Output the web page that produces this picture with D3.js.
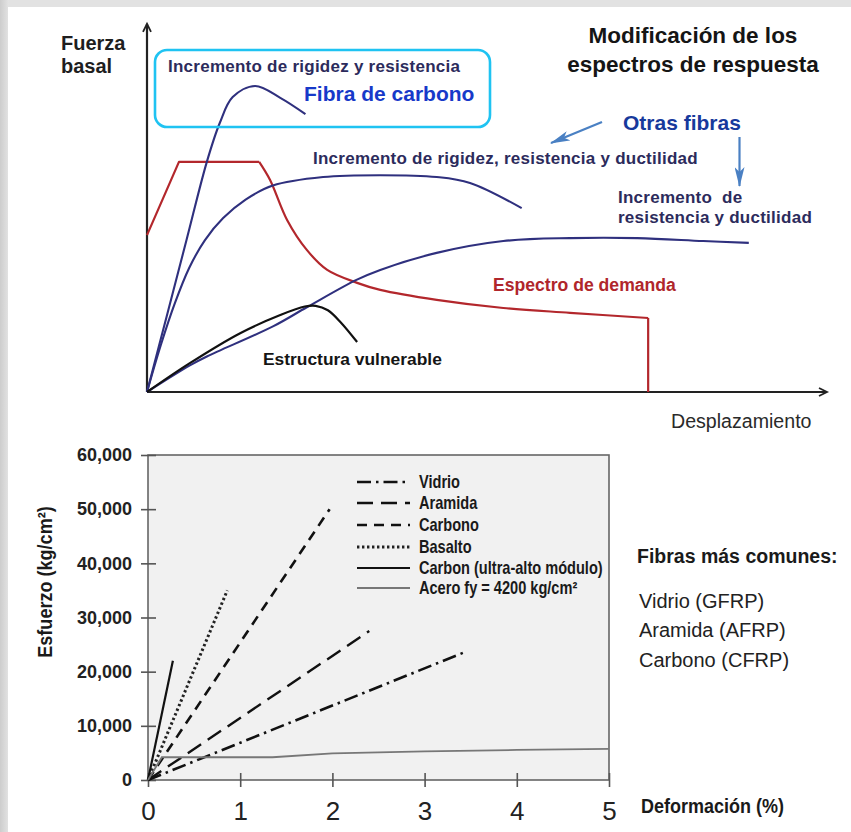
<!DOCTYPE html>
<html><head><meta charset="utf-8">
<script src="https://cdn.jsdelivr.net/npm/d3@7"></script>
<style>
body{margin:0;background:#fff}
svg{display:block}
text{font-family:Arial,"Liberation Sans",sans-serif}
</style>
</head><body>
<svg id="c" width="851" height="832"></svg>
<script>
// ---------- TOP CHART DATA (schematic units: displacement 0–100, base shear 0–100) ----------
const carbonFiberCurve = [[0,0],[2.9,20.5],[5.8,41],[8.8,62.2],[10.7,72.7],[12.6,79.7],[15.9,82.7],[19.6,79.5],[23.3,75.1]];
const stiffStrengthDuctCurve = [[0,0],[2,12.5],[4.1,24],[6.2,33.5],[8.5,41],[11.2,47],[14.5,52],[18.5,55.8],[25.9,58.1],[34.3,58.6],[42.6,58.1],[47.5,56.5],[55.1,49.7]];
const strengthDuctCurve = [[0,0],[6.3,7.2],[8.8,9.6],[18.6,17.8],[23.5,22.9],[30.8,30.3],[34.3,33.0],[42.6,37.6],[52.4,40.8],[62.2,41.6],[72.1,41.6],[81.8,40.8],[88.5,40.3]];
const vulnerableCurve = [[0,0],[6.3,7.8],[13.7,15.9],[19.6,20.8],[23.2,23.1],[24.8,23.3],[26.6,22.1],[28.5,18.8],[30.9,13.5]];
const demandRamp = [[0,42.4],[4.7,62.2],[16.5,62.2]];
const demandDecay = [[16.5,62.2],[18.1,57.3],[20.6,46.5],[23.5,38.4],[26.5,33.0],[30.9,29.5],[34.3,27.6],[42.6,24.9],[52.4,22.7],[62.2,21.4],[73.7,20.0]];
const demandDrop = [[73.7,20.0],[73.7,0]];

// ---------- BOTTOM CHART DATA (strain %, stress kg/cm²) ----------
const fiberNames = ["Vidrio","Aramida","Carbono","Basalto","Carbon (ultra-alto módulo)","Acero fy = 4200 kg/cm²"];
const vidrio   = [[0,0],[3.42,23500]];
const aramida  = [[0,0],[2.4,27500]];
const carbono  = [[0,0],[1.97,50000]];
const basalto  = [[0,0],[0.86,35000]];
const carbonUHM= [[0,0],[0.27,22000]];
const acero    = [[0,0],[0.15,4200],[1.35,4200],[2.0,4900],[3,5300],[4,5550],[5,5750]];
const xTicks = [0,1,2,3,4,5];
const yTicks = [0,10000,20000,30000,40000,50000,60000];
const commonFibers = ["Vidrio (GFRP)","Aramida (AFRP)","Carbono (CFRP)"];

const svg = d3.select("#c");
const defs = svg.append("defs");

// ---------- frame ----------
const lg = defs.append("linearGradient").attr("id","lgL").attr("x1",0).attr("x2",1).attr("y1",0).attr("y2",0);
lg.append("stop").attr("offset","0%").attr("stop-color","#cdcdcd");
lg.append("stop").attr("offset","100%").attr("stop-color","#e4e4e4");
svg.append("rect").attr("width",851).attr("height",832).attr("fill","#e2e2e2");
svg.append("rect").attr("x",0).attr("y",0).attr("width",9).attr("height",832).attr("fill","url(#lgL)");
svg.append("rect").attr("x",8).attr("y",7).attr("width",843).attr("height",825).attr("fill","#ffffff");

// ---------- TOP CHART ----------
const xT = d3.scaleLinear().domain([0,100]).range([147,827]);
const yT = d3.scaleLinear().domain([0,100]).range([392,22]);
const gTop = svg.append("g");
const smooth = d3.line().x(d=>xT(d[0])).y(d=>yT(d[1])).curve(d3.curveCatmullRom.alpha(0.5));
const straight = d3.line().x(d=>xT(d[0])).y(d=>yT(d[1]));

const axisCol = "#222";
gTop.append("line").attr("x1",xT(0)).attr("y1",yT(0)).attr("x2",xT(0)).attr("y2",yT(99.5)).attr("stroke",axisCol).attr("stroke-width",2.2);
gTop.append("line").attr("x1",xT(0)).attr("y1",yT(0)).attr("x2",xT(100)).attr("y2",yT(0)).attr("stroke",axisCol).attr("stroke-width",2.2);
gTop.append("path").attr("d",`M${xT(0)-4},${yT(99.5)+8} L${xT(0)},${yT(99.5)} L${xT(0)+4},${yT(99.5)+8}`).attr("fill","none").attr("stroke",axisCol).attr("stroke-width",1.8);
gTop.append("path").attr("d",`M${xT(100)-8},${yT(0)-4} L${xT(100)},${yT(0)} L${xT(100)-8},${yT(0)+4}`).attr("fill","none").attr("stroke",axisCol).attr("stroke-width",1.8);

const navy = "#2f307e", red = "#b3272c";
gTop.append("path").attr("d",straight(demandRamp)).attr("fill","none").attr("stroke",red).attr("stroke-width",2.2).attr("stroke-linejoin","round");
gTop.append("path").attr("d",smooth(demandDecay)).attr("fill","none").attr("stroke",red).attr("stroke-width",2.2);
gTop.append("path").attr("d",straight(demandDrop)).attr("fill","none").attr("stroke",red).attr("stroke-width",2.2);
[carbonFiberCurve, stiffStrengthDuctCurve, strengthDuctCurve].forEach(c=>{
  gTop.append("path").attr("d",smooth(c)).attr("fill","none").attr("stroke",navy).attr("stroke-width",2.1);
});
gTop.append("path").attr("d",smooth(vulnerableCurve)).attr("fill","none").attr("stroke","#111").attr("stroke-width",2.2);

gTop.append("rect").attr("x",155).attr("y",50).attr("width",335).attr("height",77).attr("rx",12)
  .attr("fill","none").attr("stroke","#1fc3f2").attr("stroke-width",2.6);

function txt(g,x,y,s,opt){
  const t = g.append("text").attr("x",x).attr("y",y).text(s)
   .attr("font-size",opt.size).attr("font-weight",opt.bold?"bold":"normal").attr("fill",opt.fill||"#222")
   .attr("text-anchor",opt.anchor||"start");
  if(opt.ls) t.attr("letter-spacing",opt.ls);
  if(opt.pre) t.style("white-space","pre");
  return t;
}
const navyTxt = "#2c2b5c";
txt(gTop,61,50,"Fuerza",{size:20,bold:true,fill:"#1e1e1e"});
txt(gTop,61,73,"basal",{size:20,bold:true,fill:"#1e1e1e"});
txt(gTop,693,43,"Modificación de los",{size:22.5,bold:true,fill:"#151515",anchor:"middle"});
txt(gTop,693,72,"espectros de respuesta",{size:22.5,bold:true,fill:"#151515",anchor:"middle"});
txt(gTop,168,72,"Incremento de rigidez y resistencia",{size:17,bold:true,fill:navyTxt,ls:0.25});
txt(gTop,304,101,"Fibra de carbono",{size:21,bold:true,fill:"#1739c9"});
txt(gTop,623,130,"Otras fibras",{size:21,bold:true,fill:"#17399c"});
txt(gTop,313,164,"Incremento de rigidez, resistencia y ductilidad",{size:17,bold:true,fill:navyTxt,ls:0.25});
txt(gTop,618,203,"Incremento  de",{size:17,bold:true,fill:navyTxt,ls:0.25,pre:true});
txt(gTop,618,223,"resistencia y ductilidad",{size:17,bold:true,fill:navyTxt,ls:0.25});
txt(gTop,493,291,"Espectro de demanda",{size:17.6,bold:true,fill:"#b0262b"});
txt(gTop,263,365,"Estructura vulnerable",{size:17.4,bold:true,fill:"#151515"});
txt(gTop,671,428,"Desplazamiento",{size:19.6,fill:"#2a2a2a"});

const arrowCol = "#4a80c3";
defs.append("marker").attr("id","ah").attr("viewBox","0 0 20 10").attr("refX",19).attr("refY",5)
  .attr("markerWidth",20).attr("markerHeight",10).attr("markerUnits","userSpaceOnUse").attr("orient","auto")
  .append("path").attr("d","M0,0 L20,5 L0,10 L5,5 Z").attr("fill",arrowCol);
gTop.append("line").attr("x1",602).attr("y1",122).attr("x2",551).attr("y2",143).attr("stroke",arrowCol).attr("stroke-width",2.2).attr("marker-end","url(#ah)");
gTop.append("line").attr("x1",739.5).attr("y1",137).attr("x2",739.5).attr("y2",186).attr("stroke",arrowCol).attr("stroke-width",2.2).attr("marker-end","url(#ah)");

// ---------- BOTTOM CHART ----------
const xB = d3.scaleLinear().domain([0,5]).range([148,609]);
const yB = d3.scaleLinear().domain([0,60000]).range([780,455]);
const gBot = svg.append("g");
gBot.append("rect").attr("x",xB(0)).attr("y",yB(60000)).attr("width",xB(5)-xB(0)).attr("height",yB(0)-yB(60000))
  .attr("fill","#f1f1f1").attr("stroke","#666").attr("stroke-width",1.6);

const yAx = gBot.append("g").attr("transform",`translate(${xB(0)},0)`)
  .call(d3.axisLeft(yB).tickValues(yTicks).tickFormat(d3.format(",")).tickSize(7).tickPadding(9));
yAx.select(".domain").remove();
yAx.selectAll(".tick line").attr("x1",8).attr("stroke","#555").attr("stroke-width",1.6);
yAx.selectAll(".tick text").attr("font-size",18).attr("font-weight","bold").attr("fill","#222")
  .attr("font-family","Arial, 'Liberation Sans', sans-serif");

const xAx = gBot.append("g").attr("transform",`translate(0,${yB(0)})`)
  .call(d3.axisBottom(xB).tickValues(xTicks).tickFormat(d3.format("d")).tickSize(7));
xAx.select(".domain").remove();
xAx.selectAll(".tick line").attr("y1",-7).attr("stroke","#555").attr("stroke-width",1.6);
xAx.selectAll(".tick text").attr("y",40).attr("dy",0).attr("font-size",26).attr("fill","#222")
  .attr("font-family","Arial, 'Liberation Sans', sans-serif");

const lineB = d3.line().x(d=>xB(d[0])).y(d=>yB(d[1]));
const styles = [
  {data:vidrio,  dash:"14,5,2.5,5", w:2.6, col:"#111"},
  {data:aramida, dash:"16,8",       w:2.4, col:"#111"},
  {data:carbono, dash:"10,7",       w:2.6, col:"#111"},
  {data:basalto, dash:"2.4,2.6",    w:3.0, col:"#222"},
  {data:carbonUHM,dash:null,        w:2.2, col:"#111"},
  {data:acero,   dash:null,         w:1.8, col:"#777"}
];
styles.forEach(s=>{
  const p = gBot.append("path").attr("d",lineB(s.data)).attr("fill","none").attr("stroke",s.col).attr("stroke-width",s.w);
  if(s.dash) p.attr("stroke-dasharray",s.dash);
});

const legRows = [482,503,525,547,568,588];
fiberNames.forEach((n,i)=>{
  const s = styles[i];
  const l = gBot.append("line").attr("x1",357).attr("x2",410).attr("y1",legRows[i]).attr("y2",legRows[i])
    .attr("stroke",s.col).attr("stroke-width",s.w);
  if(s.dash) l.attr("stroke-dasharray",s.dash);
  gBot.append("g").attr("transform",`translate(419,${legRows[i]+6}) scale(0.81,1)`)
    .append("text").attr("font-size",18).attr("font-weight","bold").attr("fill","#1a1a1a").text(n);
});

gBot.append("g").attr("transform","translate(52,582) rotate(-90) scale(0.86,1)")
  .append("text").attr("text-anchor","middle").attr("font-size",21).attr("font-weight","bold").attr("fill","#1a1a1a")
  .text("Esfuerzo (kg/cm²)");
gBot.append("g").attr("transform","translate(641,813) scale(0.9,1)")
  .append("text").attr("font-size",20).attr("font-weight","bold").attr("fill","#1a1a1a").text("Deformación (%)");

txt(gBot,637,563,"Fibras más comunes:",{size:19.5,bold:true,fill:"#1a1a1a"});
const noteY = [608,637,667];
commonFibers.forEach((f,i)=>txt(gBot,639,noteY[i],f,{size:20,fill:"#222"}));
</script>
</body></html>
